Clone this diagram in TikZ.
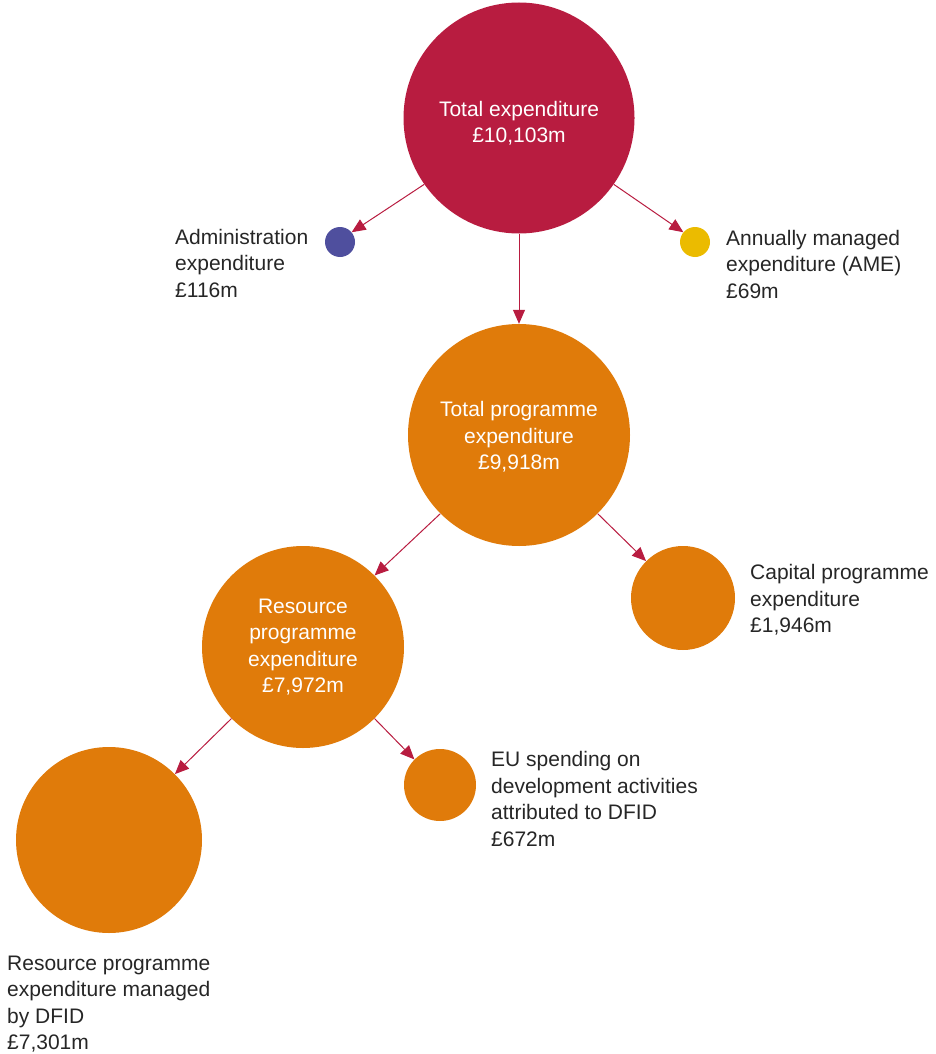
\documentclass[tikz,border=0pt]{standalone}
\usepackage{fontspec}
\setmainfont{Liberation Sans}
\usetikzlibrary{arrows.meta}
\definecolor{crim}{HTML}{B81C40}
\definecolor{orng}{HTML}{E07B0A}
\definecolor{blu}{HTML}{4F4F9E}
\definecolor{yel}{HTML}{EBBB00}
\begin{document}
\begin{tikzpicture}[x=1pt,y=-1pt,
  bub/.style={circle,inner sep=0pt,minimum size=#1,draw=none},
  wtxt/.style={text=white,align=center,font=\fontsize{21}{26.5}\selectfont,inner sep=0pt},
  ltxt/.style={text=black!85,align=left,anchor=west,font=\fontsize{21}{26.5}\selectfont,inner sep=0pt},
  conn/.style={draw=crim,line width=1pt,-{Triangle[length=14pt,width=12pt]}}]
\useasboundingbox (0,0) rectangle (935,1054);
% circles
\node[bub=231pt,fill=crim] (te) at (519,118) {};
\node[bub=30pt,fill=blu] (adm) at (340,242) {};
\node[bub=30pt,fill=yel] (ame) at (695,242) {};
\node[bub=222pt,fill=orng] (tp) at (519,435) {};
\node[bub=202pt,fill=orng] (rp) at (303,647) {};
\node[bub=104pt,fill=orng] (cap) at (683,598) {};
\node[bub=72pt,fill=orng] (eu) at (440,785) {};
\node[bub=186pt,fill=orng] (rm) at (109,840) {};
% texts in circles
\node[wtxt] (tet) at (519,123) {Total expenditure\\£10,103m};
\node[wtxt] (tpt) at (519,437) {Total programme\\expenditure\\£9,918m};
\node[wtxt] (rpt) at (303,647) {Resource\\programme\\expenditure\\£7,972m};
% side labels
\node[ltxt] (admt) at (175,263) {Administration\\expenditure\\£116m};
\node[ltxt] (amet) at (726,264) {Annually managed\\expenditure (AME)\\£69m};
\node[ltxt] (capt) at (750,600) {Capital programme\\expenditure\\£1,946m};
\node[ltxt] (eut) at (491,799) {EU spending on\\development activities\\attributed to DFID\\£672m};
\node[ltxt] (rmt) at (7,1004) {Resource programme\\expenditure managed\\by DFID\\£7,301m};
% connectors
\draw[conn] (te.-145) -- (adm.40);
\draw[conn] (te.-35) -- (ame.140);
\draw[conn] (te.south) -- (tp.north);
\draw[conn] (tp.-135) -- (rp.45);
\draw[conn] (tp.-45) -- (cap.135);
\draw[conn] (rp.-135) -- (rm.45);
\draw[conn] (rp.-45) -- (eu.135);
\end{tikzpicture}
\end{document}
